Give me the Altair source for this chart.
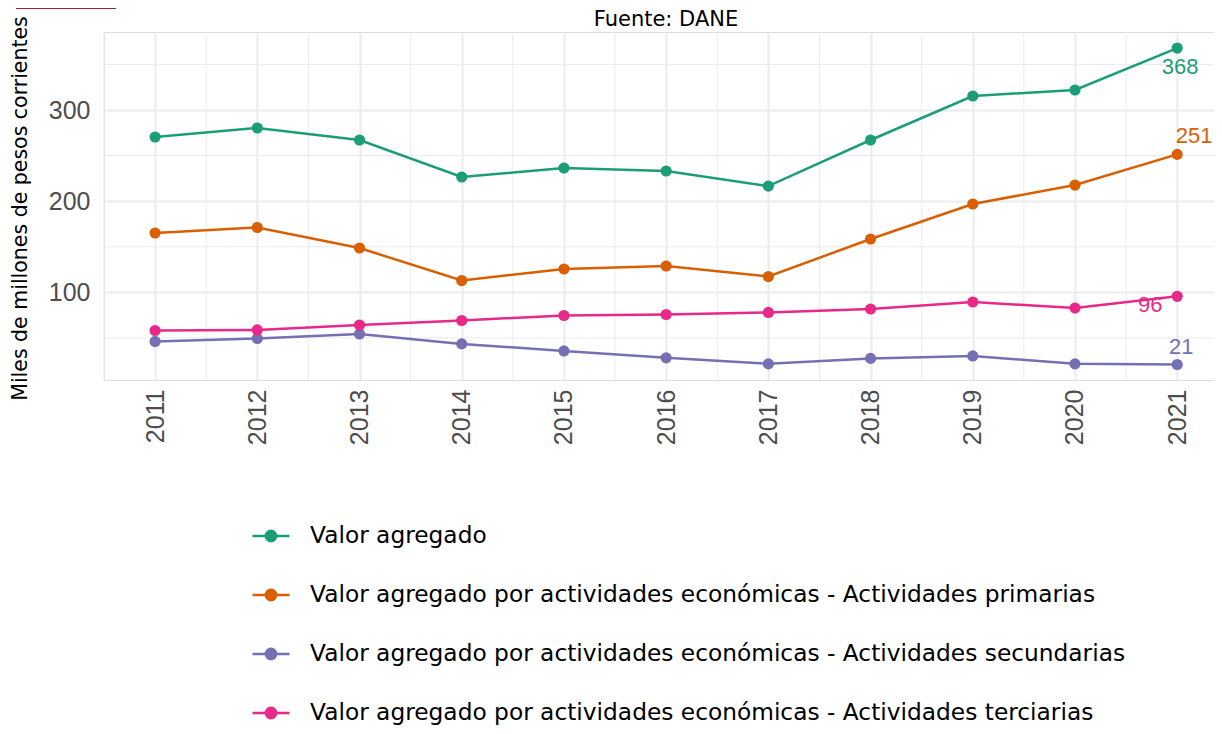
import altair as alt
import pandas as pd

YEARS = list(range(2011, 2022))
SERIES = [
    "Valor agregado",
    "Valor agregado por actividades económicas - Actividades primarias",
    "Valor agregado por actividades económicas - Actividades secundarias",
    "Valor agregado por actividades económicas - Actividades terciarias",
]
COLORS = ["#1B9E77", "#D95F02", "#7570B3", "#E7298A"]
VA = [270.4, 280.3, 267.1, 226.5, 236.4, 233.1, 216.6, 267.1, 315.4, 322.0, 368.0]
PRIM = [165.1, 171.1, 148.6, 112.9, 125.6, 128.9, 117.3, 158.5, 196.9, 217.7, 251.3]
SEC = [46.1, 49.3, 54.3, 43.4, 35.7, 28.1, 21.5, 27.5, 30.2, 21.5, 20.8]
TER = [58.1, 58.7, 64.1, 69.1, 74.6, 75.7, 77.9, 81.7, 89.4, 82.8, 95.6]
Y_TICKS = [100, 200, 300]
Y_MINOR = [50, 150, 250, 350]
X_MINOR = [2010.5 + i for i in range(11)]
TITLE = "Fuente: DANE"
Y_TITLE = "Miles de millones de pesos corrientes"

rows = []
for name, vals in zip(SERIES, [VA, PRIM, SEC, TER]):
    for yr, v in zip(YEARS, vals):
        rows.append({"year": yr, "series": name, "value": v})
df = pd.DataFrame(rows)

GRID = "#EBEBEB"
xscale = alt.Scale(domain=[2010.5, 2021.36], nice=False, zero=False)
yscale = alt.Scale(domain=[3.8, 385.6], nice=False, zero=False)
cscale = alt.Scale(domain=SERIES, range=COLORS)

xaxis = alt.Axis(values=YEARS, format="d", title=None, labelAngle=270,
                 labelAlign="right", labelBaseline="middle", labelPadding=9,
                 ticks=False, domain=False, labelFont="Liberation Sans",
                 labelFontSize=25, labelColor="#4D4D4D", grid=True,
                 gridColor=GRID, gridWidth=2, labelOverlap=False)
yaxis = alt.Axis(values=Y_TICKS, title=Y_TITLE,
                 labelPadding=14, ticks=False, domain=False,
                 labelFont="Liberation Sans", labelFontSize=25,
                 labelColor="#4D4D4D", grid=True, gridColor=GRID, gridWidth=2,
                 titleFont="DejaVu Sans", titleFontSize=20.5, titleFontWeight="normal",
                 titleColor="#000000", titleAngle=270, titleAlign="center",
                 titleBaseline="middle", titleX=-84, titleY=176)


def circ(r):
    return f"M {-r} 0 A {r} {r} 0 1 0 {r} 0 A {r} {r} 0 1 0 {-r} 0"


SYMBOL = "M -1.5 0 L 1.5 0 " + circ(0.42) + " " + circ(0.26) + " " + circ(0.1)

legend = alt.Legend(title=None, orient="none", legendX=153, legendY=490,
                    direction="vertical", symbolType=SYMBOL, symbolSize=610,
                    symbolStrokeWidth=2.5, labelFont="DejaVu Sans",
                    labelFontSize=23.3, labelColor="#000000", labelOffset=25,
                    rowPadding=33, padding=0, labelLimit=1000, symbolOpacity=1)

ymin_df = pd.DataFrame({"ym": Y_MINOR})
xmin_df = pd.DataFrame({"xm": X_MINOR})

ygrid = alt.Chart(ymin_df).mark_rule(color=GRID, strokeWidth=1).encode(
    y=alt.Y("ym:Q", scale=yscale, axis=yaxis))
xgrid = alt.Chart(xmin_df).mark_rule(color=GRID, strokeWidth=1).encode(
    x=alt.X("xm:Q", scale=xscale, axis=xaxis))

base = alt.Chart(df).encode(
    x=alt.X("year:Q", scale=xscale, axis=xaxis),
    y=alt.Y("value:Q", scale=yscale, axis=yaxis),
)
lines = base.mark_line(strokeWidth=2.5).encode(
    color=alt.Color("series:N", scale=cscale, legend=legend, sort=SERIES))
points = base.mark_point(filled=True, size=125, opacity=1).encode(
    color=alt.Color("series:N", scale=cscale, legend=legend, sort=SERIES))

offsets = {SERIES[0]: (3, 19), SERIES[1]: (17, -18), SERIES[2]: (4, -18), SERIES[3]: (-27, 9)}
texts = []
for s in SERIES:
    dx, dy = offsets[s]
    texts.append(
        base.transform_filter((alt.datum.series == s) & (alt.datum.year == 2021))
        .mark_text(dx=dx, dy=dy, font="Liberation Sans", fontSize=22)
        .encode(text=alt.Text("value:Q", format=".0f"),
                color=alt.Color("series:N", scale=cscale, legend=None))
    )

deco = pd.DataFrame({"a": [0]})
logo = alt.Chart(deco).mark_rect(color="#A51B45").encode(
    x=alt.value(-88), x2=alt.value(12), y=alt.value(-40), y2=alt.value(-23))
title = alt.Chart(deco).mark_text(
    font="DejaVu Sans", fontSize=21, color="#000000", align="center",
    baseline="alphabetic").encode(
    x=alt.value(562), y=alt.value(-6), text=alt.value(TITLE))

chart = alt.layer(xgrid, ygrid, lines, points, *texts, logo, title).properties(
    width=1110, height=348,
    autosize=alt.AutoSizeParams(type="none"),
    padding={"left": 96, "top": 24, "right": 0, "bottom": 346},
).configure_view(stroke=None).configure(background="white")

chart.save("out.html", embed_options={"renderer": "svg", "actions": False})
